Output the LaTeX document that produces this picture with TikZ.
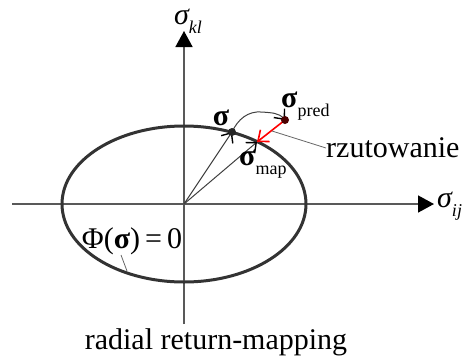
\documentclass[tikz,border=0pt]{standalone}
\usepackage{fontspec}
\setmainfont{Liberation Serif}
\usetikzlibrary{arrows.meta}
\newcommand\mysub[1]{\raisebox{-0.3em}{\fontsize{18}{19}\selectfont #1}}
\tikzset{
  lbl/.style={inner sep=0pt, font=\fontsize{30}{34}\selectfont},
  axisline/.style={draw=black!65, line width=1.6},
  axistip/.style={-{Triangle[length=16,width=17,fill=black,color=black]}},
  yieldcurve/.style={draw=black!80, line width=3},
  vec/.style={draw=black!75, line width=1, -{Straight Barb[length=8,width=14,color=black,line width=1.4]}},
  proj/.style={draw=red, line width=1.6, -{Straight Barb[length=9,width=15]}},
  leader/.style={draw=black!60, line width=0.8},
  dot/.style={fill=black!85}
}
\begin{document}
\begin{tikzpicture}[x=1pt,y=-1pt]
\useasboundingbox (0,0) rectangle (464,360);
% axes
\coordinate (O) at (184,204);
\coordinate (xs) at (12,204);
\coordinate (xe) at (434,204);
\coordinate (ys) at (184,324);
\coordinate (ye) at (184,31);
\draw[axisline, axistip] (xs) -- (xe);
\draw[axisline, axistip] (ys) -- (ye);
% yield surface
\draw[yieldcurve] (O) ellipse [x radius=122, y radius=78];
% points
\coordinate (S) at (232,132);
\coordinate (P) at (285,120);
\coordinate (M) at (257,142);
\draw[vec] (O) -- (S);
\draw[vec] (O) -- (M);
\draw[vec] (S) to[out=65, in=175] (262,112) to[out=-5, in=130] (P);
\draw[proj] (P) -- (M);
\fill[dot] (S) circle (4);
\fill[fill=black!70!red] (P) circle (4);
% labels
\node[lbl] (skl) at (188,21) {\itshape σ\mysub{kl}};
\node[lbl, anchor=west] (sij) at (437,206) {\itshape σ\mysub{ij}};
\node[lbl] (sS) at (221,118) {\bfseries σ};
\node[lbl, anchor=west] (sP) at (281,106) {\bfseries σ\mysub{\mdseries pred}};
\node[lbl, anchor=west] (sM) at (239,164) {\bfseries σ\mysub{\mdseries map}};
\node[lbl, anchor=west] (rz) at (326,148) {rzutowanie};
\coordinate (L1) at (272,131);
\draw[leader] (L1) -- (rz.west);
\node[lbl] (phi) at (132,241) {Φ(\textbf{σ})\,=\,0};
\coordinate (F) at (127,271);
\draw[leader] (F) -- (121,255);
\node[lbl] (title) at (216,342) {radial return-mapping};
\end{tikzpicture}
\end{document}
